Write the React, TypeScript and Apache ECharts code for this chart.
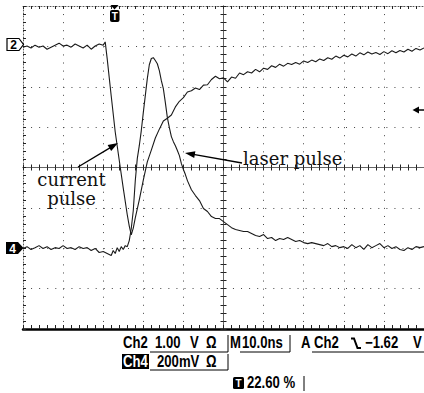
import React, { useEffect, useRef } from "react";
import * as echarts from "echarts";

// Ch2 (current pulse), 1.00 V/div, time in ns from record start (10 ns/div)
const ch2Time = [
  0, 1, 2, 3, 4, 5, 6, 7, 8, 9, 10, 11, 12, 13, 14, 15, 16, 17, 18, 19, 20, 20.5,
  21, 22, 23, 24, 25, 26, 26.5, 27, 27.5, 28, 29, 30, 31, 32, 33, 34, 35, 36,
  37, 38, 39, 40, 41, 42, 43, 44, 45, 46, 47, 48, 49, 50, 51, 52, 53, 54, 55, 56,
  57, 58, 59, 60, 61, 62, 63, 64, 65, 66, 67, 68, 69, 70, 71, 72, 73, 74, 75, 76,
  77, 78, 79, 80, 81, 82, 83, 84, 85, 86, 87, 88, 89, 90, 91, 92, 93, 94, 95, 96,
  97, 98, 99, 100,
];
const ch2Volts = [
  -0.02, 0.01, -0.04, 0.03, -0.02, 0.01, -0.07, -0.02, 0.03, 0.08, 0.01, 0.03, -0.02, 0.06,
  0.01, -0.04, 0.03, -0.07, 0.01, 0.06, 0.03, 0.11,
  -0.31, -1.23, -2.12, -2.82, -3.51, -4.17, -4.45, -4.67, -4.5, -4.25, -3.8, -3.31, -2.86,
  -2.57, -2.27, -2.05, -1.85, -1.78,
  -1.7, -1.5, -1.36, -1.27, -1.13, -1.1, -1.03, -1.07, -0.96, -0.95, -0.82, -0.74, -0.8,
  -0.78, -0.88, -0.76, -0.79, -0.66, -0.7, -0.63,
  -0.66, -0.57, -0.63, -0.54, -0.57, -0.48, -0.52, -0.44, -0.49, -0.42, -0.45, -0.4, -0.44,
  -0.36, -0.4, -0.34, -0.38, -0.31, -0.35, -0.28,
  -0.32, -0.24, -0.29, -0.22, -0.26, -0.19, -0.24, -0.16, -0.21, -0.14, -0.19, -0.15, -0.2,
  -0.13, -0.18, -0.11, -0.16, -0.1, -0.14, -0.07,
  -0.12, -0.05, -0.09, -0.04,
];

// Ch4 (laser pulse), 200 mV/div
const ch4Time = [
  0, 1, 2, 3, 4, 5, 6, 7, 8, 9, 10, 11, 12, 13, 14, 15, 16, 17, 18, 19, 20, 21, 22,
  22.5, 23, 23.5, 24, 24.5, 25, 25.5, 26, 26.5, 27, 27.5, 28, 28.5, 29, 29.5, 30, 30.5,
  31, 31.5, 32, 32.5, 33, 33.5, 34, 34.5, 35, 35.5, 36, 36.5, 37, 37.5, 38, 38.5, 39,
  39.5, 40, 40.5, 41, 42, 43, 44, 45, 46, 47, 48, 49, 50, 51, 52, 53, 54, 55, 56, 57,
  58, 59, 60, 61, 62, 63, 64, 65, 66, 67, 68, 69, 70, 71, 72, 73, 74, 75, 76, 77, 78,
  79, 80, 81, 82, 83, 84, 85, 86, 87, 88, 89, 90, 91, 92, 93, 94, 95, 96, 97, 98, 99, 100,
];
const ch4Millivolts = [
  -1, 8, -6, 3, 13, -1, 8, -6, 3, -1, 13, -1, 3, -6, 8, -1, 3, -11, -1, -21, -16, -26, -36,
  -11, -26, 3, -16, 8, -6, 13, 8, 38, 98, 187, 334, 444, 508, 583, 672, 756,
  840, 909, 940, 944, 930, 914, 880, 830, 791, 721, 647, 597, 553, 528, 508, 484, 459,
  419, 390, 365, 335, 290, 261, 236, 197, 182, 157, 147, 147, 132, 117, 102, 93, 88, 83, 83, 73,
  63, 58, 68, 48, 53, 38, 48, 43, 53, 43, 33, 38, 28, 23, 28, 23, 18, 13, 23, 8, 13,
  3, 8, -1, 18, 3, 13, -6, 18, 3, 13, 23, 3, 13, -1, 8, -6, -11, 3, -6, 8, 3, 8,
];

const GRID_LEFT = 23;
const GRID_TOP = 6;
const GRID_W = 404;
const GRID_H = 323;

const DOT: number[] = [1, 7.075];
const READ_FONT = 'bold 16px "Liberation Sans", Arial, sans-serif';
const READ_SCALE = 0.82;
const SERIF_FONT = '18px "DejaVu Serif", serif';

function txt(x: number, y: number, text: string, font: string, fill = "#000", align = "left", sx = 1) {
  return {
    type: "text", x, y, z: 10, scaleX: sx,
    style: { text, font, fill, align, verticalAlign: "middle" },
  };
}
function rd(x: number, y: number, text: string, fill = "#000") {
  return txt(x, y, text, READ_FONT, fill, "left", READ_SCALE);
}
function ln(x1: number, y1: number, x2: number, y2: number, w = 1) {
  return { type: "line", z: 10, shape: { x1, y1, x2, y2 }, style: { stroke: "#000", lineWidth: w } };
}

export default function App() {
  const ref = useRef<HTMLDivElement>(null);
  useEffect(() => {
    if (!ref.current) return;
    const chart = echarts.init(ref.current, undefined, { renderer: "svg" });

    const divAxisCommon = {
      type: "value",
      interval: 1,
      axisLabel: { show: false },
    };
    const tickStyle = { color: "#222", width: 1 };

    const option: any = {
      animation: false,
      backgroundColor: "#fff",
      grid: { left: GRID_LEFT, top: GRID_TOP, width: GRID_W, height: GRID_H },
      xAxis: [
        {
          ...divAxisCommon, min: -5, max: 5, position: "bottom",
          axisLine: { show: true, onZero: false, lineStyle: { color: "#000", width: 2.5 } },
          axisTick: { show: true, inside: true, length: 4, lineStyle: tickStyle },
          minorTick: { show: true, splitNumber: 5, length: 4, lineStyle: tickStyle },
          splitLine: { show: true, lineStyle: { color: "#444", width: 1, type: DOT } },
        },
        {
          ...divAxisCommon, min: -5, max: 5, position: "top",
          axisLine: { show: true, onZero: false, lineStyle: { color: "#555", width: 1, type: [1, 2] } },
          axisTick: { show: true, inside: true, length: 3, lineStyle: tickStyle },
          minorTick: { show: true, splitNumber: 5, length: 3, lineStyle: tickStyle },
          splitLine: { show: false },
        },
        {
          ...divAxisCommon, min: -5, max: 5, position: "bottom",
          axisLine: { show: true, onZero: true, onZeroAxisIndex: 0, lineStyle: { color: "#666", width: 1 } },
          axisTick: { show: true, inside: true, length: 3, lineStyle: tickStyle },
          minorTick: { show: true, splitNumber: 5, length: 3, lineStyle: tickStyle },
          splitLine: { show: false },
        },
        {
          ...divAxisCommon, min: -5, max: 5, position: "top",
          axisLine: { show: true, onZero: true, onZeroAxisIndex: 0, lineStyle: { color: "#666", width: 1 } },
          axisTick: { show: true, inside: true, length: 3, lineStyle: tickStyle },
          minorTick: { show: true, splitNumber: 5, length: 3, lineStyle: tickStyle },
          splitLine: { show: false },
        },
        { type: "value", min: 0, max: 100, show: false },
      ],
      yAxis: [
        {
          ...divAxisCommon, min: -4, max: 4, position: "left",
          axisLine: { show: true, onZero: false, lineStyle: { color: "#555", width: 1, type: [1, 2] } },
          axisTick: { show: true, inside: true, length: 3, lineStyle: tickStyle },
          minorTick: { show: true, splitNumber: 5, length: 3, lineStyle: tickStyle },
          splitLine: { show: true, lineStyle: { color: "#444", width: 1, type: DOT } },
        },
        {
          ...divAxisCommon, min: -4, max: 4, position: "right",
          axisLine: { show: true, onZero: false, lineStyle: { color: "#555", width: 1 } },
          axisTick: { show: false },
          splitLine: { show: false },
        },
        {
          ...divAxisCommon, min: -4, max: 4, position: "left",
          axisLine: { show: true, onZero: true, onZeroAxisIndex: 0, lineStyle: { color: "#666", width: 1 } },
          axisTick: { show: true, inside: true, length: 3, lineStyle: tickStyle },
          minorTick: { show: true, splitNumber: 5, length: 3, lineStyle: tickStyle },
          splitLine: { show: false },
        },
        {
          ...divAxisCommon, min: -4, max: 4, position: "right",
          axisLine: { show: true, onZero: true, onZeroAxisIndex: 0, lineStyle: { color: "#666", width: 1 } },
          axisTick: { show: true, inside: true, length: 3, lineStyle: tickStyle },
          minorTick: { show: true, splitNumber: 5, length: 3, lineStyle: tickStyle },
          splitLine: { show: false },
        },
        { type: "value", min: -7, max: 1, show: false },
        { type: "value", min: -400, max: 1200, show: false },
      ],
      series: [
        {
          name: "current pulse",
          type: "line",
          xAxisIndex: 4,
          yAxisIndex: 4,
          showSymbol: false,
          lineStyle: { color: "#1a1a1a", width: 1.1 },
          data: ch2Time.map((t, i) => [t, ch2Volts[i]]),
          z: 5,
        },
        {
          name: "laser pulse",
          type: "line",
          xAxisIndex: 4,
          yAxisIndex: 5,
          showSymbol: false,
          lineStyle: { color: "#1a1a1a", width: 1.1 },
          data: ch4Time.map((t, i) => [t, ch4Millivolts[i]]),
          z: 5,
        },
      ],
      graphic: [
        // channel 2 ground marker
        {
          type: "polygon", z: 10,
          shape: { points: [[7, 38.5], [19, 38.5], [23.5, 44.5], [19, 50.5], [7, 50.5]] },
          style: { fill: "#fff", stroke: "#000", lineWidth: 1.2 },
        },
        txt(13.5, 45, "2", 'bold 12px "Liberation Sans", sans-serif', "#000", "center"),
        // channel 4 ground marker
        {
          type: "polygon", z: 10,
          shape: { points: [[6, 242], [18, 242], [23.5, 248], [18, 254], [6, 254]] },
          style: { fill: "#000" },
        },
        txt(12.5, 248.5, "4", 'bold 12px "Liberation Sans", sans-serif', "#fff", "center"),
        // trigger position marker
        { type: "polygon", z: 10, shape: { points: [[110.5, 5], [118.5, 5], [114.5, 9.5]] }, style: { fill: "#000" } },
        { type: "rect", z: 10, shape: { x: 110, y: 10, width: 9.5, height: 12, r: 2 }, style: { fill: "#000" } },
        txt(114.8, 16.5, "T", 'bold 10px "Liberation Sans", sans-serif', "#fff", "center"),
        // trigger level marker (right)
        { type: "polygon", z: 10, shape: { points: [[412.5, 110], [419, 106.5], [419, 113.5]] }, style: { fill: "#000" } },
        ln(418, 110, 424, 110, 1.5),
        // annotations
        txt(71.5, 179, "current", SERIF_FONT, "#111", "center"),
        txt(71.5, 198, "pulse", SERIF_FONT, "#111", "center"),
        ln(78, 167, 112, 146.6, 1.3),
        { type: "polygon", z: 10, shape: { points: [[118, 143], [111.2, 151.1], [107.6, 145.1]] }, style: { fill: "#000" } },
        txt(243, 158, "laser pulse", SERIF_FONT, "#111", "left"),
        ln(242, 163, 192, 154.2, 1.3),
        { type: "polygon", z: 10, shape: { points: [[185, 153], [195.4, 151.3], [194.2, 158.1]] }, style: { fill: "#000" } },
        // readouts line 1
        rd(123, 343, "Ch2"),
        rd(155, 343, "1.00"),
        rd(190, 343, "V"),
        rd(206, 343, "Ω"),
        ln(150, 352, 228, 352, 1),
        ln(228, 335, 228, 352, 1),
        rd(230, 343, "M"),
        rd(242, 343, "10.0ns"),
        ln(240, 352, 290, 352, 1),
        ln(290, 335, 290, 352, 1),
        rd(301, 343, "A"),
        rd(314, 343, "Ch2"),
        {
          type: "polyline", z: 10,
          shape: { points: [[351, 338.5], [354, 338.5], [357.5, 348], [361, 348]] },
          style: { stroke: "#000", lineWidth: 2, fill: null },
        },
        rd(365, 343, "\u22121.62"),
        rd(413, 343, "V"),
        ln(312, 352, 424, 352, 1),
        // readouts line 2
        { type: "rect", z: 10, shape: { x: 122, y: 354, width: 27, height: 15 }, style: { fill: "#000" } },
        rd(123, 362, "Ch4", "#fff"),
        rd(157, 362, "200mV"),
        rd(206, 362, "Ω"),
        ln(150, 370, 228, 370, 1),
        ln(228, 354, 228, 370, 1),
        // readouts line 3
        { type: "rect", z: 10, shape: { x: 233, y: 377, width: 11, height: 12, r: 1.5 }, style: { fill: "#000" } },
        txt(238.5, 383.5, "T", 'bold 10px "Liberation Sans", sans-serif', "#fff", "center"),
        rd(247, 383, "22.60 %"),
        ln(304, 376, 304, 391, 1),
      ],
    };
    chart.setOption(option);
    return () => chart.dispose();
  }, []);

  return (
    <div
      ref={ref}
      style={{ position: "absolute", left: 0, top: 0, width: 424, height: 393, background: "#fff" }}
    />
  );
}
